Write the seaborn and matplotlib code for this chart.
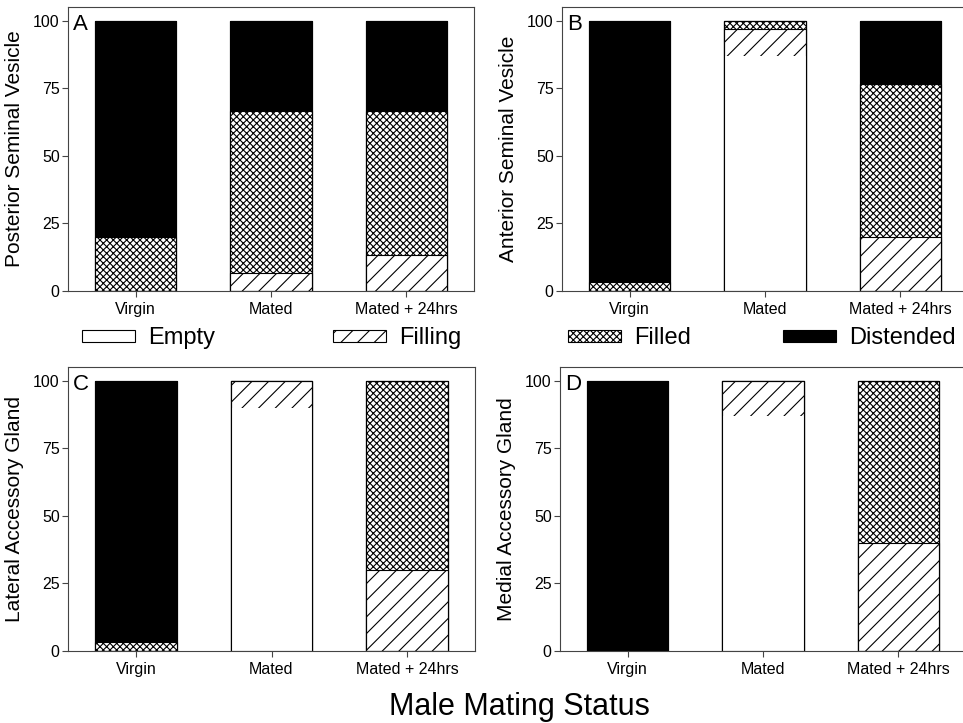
import numpy as np
import pandas as pd
import seaborn as sns
import matplotlib
matplotlib.use('Agg')
from matplotlib import pyplot as plt
from matplotlib.patches import Patch

# categories
status = ['Virgin', 'Mated', 'Mated + 24hrs']
panel_letters = ['A', 'B', 'C', 'D']
panel_ylabels = ['Posterior Seminal Vesicle', 'Anterior Seminal Vesicle',
                 'Lateral Accessory Gland', 'Medial Accessory Gland']

# percent of males in each state, per panel (Virgin, Mated, Mated + 24hrs)
empty = {'A': [0, 0, 0], 'B': [0, 86.7, 0], 'C': [0, 90, 0], 'D': [0, 86.7, 0]}
filling = {'A': [0, 6.7, 13.3], 'B': [0, 10, 20], 'C': [0, 10, 30], 'D': [0, 13.3, 40]}
filled = {'A': [20, 60, 53.3], 'B': [3.3, 3.3, 56.7], 'C': [3.3, 0, 70], 'D': [0, 0, 60]}
distended = {'A': [80, 33.3, 33.1], 'B': [96.7, 0, 23.3], 'C': [96.7, 0, 0], 'D': [100, 0, 0]}

sns.set_style('ticks')
plt.rcParams['font.family'] = ['Liberation Sans', 'DejaVu Sans']
plt.rcParams['hatch.linewidth'] = 0.8
plt.rcParams['text.color'] = 'black'
plt.rcParams['axes.labelcolor'] = 'black'
plt.rcParams['xtick.labelcolor'] = 'black'
plt.rcParams['ytick.labelcolor'] = 'black'

W, H = 963, 723
fig = plt.figure(figsize=(W / 100, H / 100), dpi=100)

# axes boxes in pixels: left, top, right, bottom
boxes = {'A': (68, 7, 474, 291), 'B': (562, 7, 968, 291),
         'C': (68, 367, 475, 651), 'D': (560, 367, 966, 651)}

FILLING_HATCH = '//'
FILLED_HATCH = 'xxxxx'

axes = {}
for letter, ylab in zip(panel_letters, panel_ylabels):
    l, t, r, b = boxes[letter]
    ax = fig.add_axes([l / W, 1 - b / H, (r - l) / W, (b - t) / H])
    axes[letter] = ax

    df = pd.DataFrame({'status': status,
                       'e': empty[letter], 'fi': filling[letter],
                       'fd': filled[letter], 'd': distended[letter]})
    df['top1'] = df['e']
    df['top2'] = df['top1'] + df['fi']
    df['top3'] = df['top2'] + df['fd']
    df['top4'] = df['top3'] + df['d']

    common = dict(data=df, x='status', order=status, width=0.6, saturation=1,
                  errorbar=None, ax=ax)
    sns.barplot(y='top4', color='black', edgecolor='black', linewidth=0.8, **common)
    sns.barplot(y='top3', color='white', hatch=FILLED_HATCH, edgecolor='black', linewidth=0.8, **common)
    sns.barplot(y='top2', color='white', hatch=FILLING_HATCH, edgecolor='black', linewidth=0.8, **common)
    sns.barplot(y='top1', color='white', linewidth=0, **common)
    sns.barplot(y='top4', fill=False, color='black', linewidth=0.8, **common)

    ax.set_ylim(0, 105)
    ax.set_xlim(-0.5, 2.5)
    ax.set_yticks([0, 25, 50, 75, 100])
    ax.set_xlabel('')
    ax.set_ylabel(ylab, fontsize=15)
    ax.yaxis.set_label_coords(-0.108, 0.5)
    ax.tick_params(axis='both', labelsize=11.5, direction='out', length=4,
                   width=0.8, color='#444444', pad=2)
    ax.tick_params(axis='x', pad=4)
    for sp in ax.spines.values():
        sp.set_visible(True)
        sp.set_color('#444444')
        sp.set_linewidth(0.8)
    ax.text(0.012, 0.975, letter, transform=ax.transAxes, fontsize=16,
            ha='left', va='top')

h_empty = Patch(facecolor='white', edgecolor='black', linewidth=0.8, label='Empty')
h_filling = Patch(facecolor='white', edgecolor='black', linewidth=0.8, hatch=FILLING_HATCH, label='Filling')
h_filled = Patch(facecolor='white', edgecolor='black', linewidth=0.8, hatch=FILLED_HATCH, label='Filled')
h_dist = Patch(facecolor='black', edgecolor='black', linewidth=0.8, label='Distended')

leg_kw = dict(loc='center left', bbox_transform=fig.transFigure, ncol=2, frameon=False,
              fontsize=17, handlelength=2.25, handleheight=0.4, handletextpad=0.55,
              borderpad=0, borderaxespad=0)
axes['A'].legend(handles=[h_empty, h_filling], bbox_to_anchor=(82 / W, 1 - 338 / H),
                 columnspacing=5.0, **leg_kw)
axes['B'].legend(handles=[h_filled, h_dist], bbox_to_anchor=(568 / W, 1 - 338 / H),
                 columnspacing=3.9, **leg_kw)

fig.text(519 / W, 1 - 715 / H, 'Male Mating Status', fontsize=22,
         ha='center', va='baseline')

fig.savefig('out.png', dpi=100)
